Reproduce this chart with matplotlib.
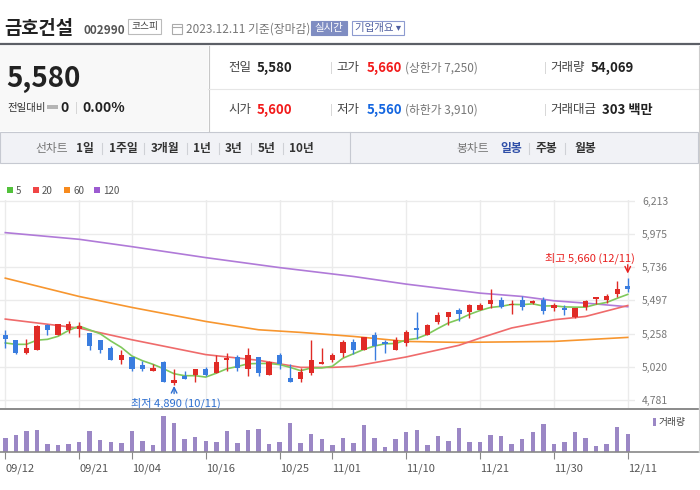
import matplotlib
matplotlib.use("Agg")
import matplotlib.pyplot as plt
from matplotlib.patches import Rectangle
from matplotlib.lines import Line2D

plt.rcParams['font.family'] = ['Noto Sans CJK KR', 'DejaVu Sans']

W, H = 700, 490

# ---------------- data ----------------
dates = ['09/12', '09/13', '09/14', '09/15', '09/18', '09/19', '09/20', '09/21', '09/22', '09/25',
         '09/26', '09/27', '10/04', '10/05', '10/06', '10/10', '10/11', '10/12', '10/13', '10/16',
         '10/17', '10/18', '10/19', '10/20', '10/23', '10/24', '10/25', '10/26', '10/27', '10/30',
         '10/31', '11/01', '11/02', '11/03', '11/06', '11/07', '11/08', '11/09', '11/10', '11/13',
         '11/14', '11/15', '11/16', '11/17', '11/20', '11/21', '11/22', '11/23', '11/24', '11/27',
         '11/28', '11/29', '11/30', '12/01', '12/04', '12/05', '12/06', '12/07', '12/08', '12/11']
opens = [5250, 5210, 5120, 5140, 5320, 5250, 5280, 5290, 5260, 5210,
         5150, 5070, 5090, 5030, 4990, 5050, 4900, 4950, 4960, 5000,
         4970, 5070, 5090, 5000, 5090, 4960, 5100, 4940, 4930, 4970,
         5040, 5070, 5120, 5200, 5140, 5250, 5200, 5140, 5190, 5300,
         5250, 5340, 5380, 5430, 5410, 5430, 5470, 5500, 5460, 5500,
         5480, 5500, 5440, 5440, 5380, 5450, 5510, 5500, 5540, 5600]
highs = [5280, 5210, 5220, 5320, 5330, 5330, 5350, 5340, 5260, 5210,
         5170, 5140, 5090, 5060, 5040, 5060, 5000, 4990, 5000, 5020,
         5100, 5120, 5100, 5150, 5090, 5060, 5120, 5040, 5010, 5210,
         5150, 5120, 5210, 5220, 5230, 5270, 5210, 5230, 5280, 5410,
         5330, 5410, 5410, 5440, 5470, 5480, 5580, 5520, 5500, 5530,
         5500, 5520, 5480, 5460, 5440, 5500, 5520, 5540, 5640, 5660]
lows = [5150, 5110, 5110, 5140, 5250, 5250, 5260, 5230, 5140, 5120,
        5070, 5040, 4990, 4990, 4990, 4910, 4890, 4930, 4910, 4950,
        4970, 4990, 4990, 4950, 4950, 4960, 5000, 4910, 4910, 4960,
        5040, 5050, 5090, 5110, 5140, 5070, 5120, 5140, 5170, 5220,
        5250, 5330, 5320, 5350, 5370, 5430, 5440, 5440, 5400, 5430,
        5470, 5400, 5420, 5390, 5370, 5430, 5470, 5480, 5520, 5560]
closes = [5220, 5120, 5150, 5310, 5280, 5330, 5330, 5310, 5170, 5140,
          5070, 5100, 5000, 5000, 5010, 4910, 4920, 4930, 5000, 4960,
          5050, 5080, 5010, 5100, 4970, 5050, 5040, 4910, 4980, 5070,
          5050, 5100, 5200, 5140, 5230, 5170, 5180, 5210, 5270, 5280,
          5320, 5390, 5410, 5400, 5460, 5460, 5500, 5450, 5470, 5450,
          5490, 5420, 5460, 5430, 5440, 5490, 5520, 5530, 5580, 5580]
volumes = [42000, 51000, 63000, 66000, 24000, 21000, 24000, 30000, 63000, 36000,
           30000, 27000, 63000, 33000, 21000, 108000, 87000, 39000, 45000, 33000,
           30000, 63000, 27000, 66000, 69000, 24000, 30000, 87000, 27000, 54000,
           39000, 21000, 42000, 27000, 81000, 42000, 15000, 39000, 60000, 66000,
           21000, 48000, 33000, 72000, 30000, 30000, 51000, 48000, 24000, 39000,
           60000, 84000, 24000, 30000, 60000, 42000, 18000, 24000, 75000, 54069]

ma5 = [5190, 5180, 5180, 5210, 5216, 5238, 5280, 5312, 5284, 5256,
       5204, 5158, 5096, 5062, 5036, 5004, 4968, 4954, 4954, 4944,
       4972, 5004, 5020, 5040, 5042, 5042, 5034, 5014, 4990, 5010,
       5010, 5022, 5080, 5112, 5144, 5168, 5184, 5186, 5212, 5222,
       5252, 5294, 5334, 5360, 5396, 5424, 5446, 5454, 5468, 5466,
       5472, 5456, 5458, 5450, 5448, 5448, 5468, 5482, 5512, 5540]
ma20_idx = [0, 7, 12, 19, 24, 28, 31, 33, 38, 43, 45, 48, 52, 55, 59]
ma20 = [5362, 5297, 5213, 5106, 5065, 5014, 5014, 5021, 5089, 5173, 5225, 5298, 5357, 5381, 5460]
ma60_idx = [0, 7, 12, 19, 24, 28, 33, 38, 43, 52, 59]
ma60 = [5657, 5525, 5446, 5345, 5285, 5266, 5237, 5201, 5194, 5201, 5230]
ma120_idx = [0, 7, 12, 19, 26, 33, 38, 45, 49, 52, 55, 59]
ma120 = [5985, 5937, 5884, 5805, 5733, 5669, 5614, 5549, 5525, 5494, 5477, 5451]

price_ticks = [4781, 5020, 5258, 5497, 5736, 5975, 6213]
date_ticks = ['09/12', '09/21', '10/04', '10/16', '10/25', '11/01', '11/10', '11/21', '11/30', '12/11']

name = '금호건설'
code = '002990'
upper_limit = 7250
lower_limit = 3910
trade_value = 303

RED = '#e02b26'
BLUE = '#3a7ddf'

fig = plt.figure(figsize=(7, 4.9), dpi=100)


def fx(x):
    return x / W


def fy(y):
    return 1 - y / H


def txt(x, y, s, size=9, color='#333', weight='normal', ha='left'):
    fig.text(fx(x), fy(y), s, fontsize=size, color=color, fontweight=weight,
             ha=ha, va='center')


def box(x, y, w, h, **kw):
    fig.add_artist(Rectangle((fx(x), fy(y + h)), w / W, h / H,
                             transform=fig.transFigure, **kw))


def line(x1, y1, x2, y2, **kw):
    fig.add_artist(Line2D([fx(x1), fx(x2)], [fy(y1), fy(y2)],
                          transform=fig.transFigure, **kw))


# ---------------- header ----------------
txt(4, 29, name, size=13.5, color='#222', weight='bold')
txt(83, 31, code, size=8.5, color='#555', weight='bold')
box(128, 19, 33, 15, facecolor='white', edgecolor='#bbbbbb', lw=0.8)
txt(144.5, 26.5, '코스피', size=7, color='#444', ha='center')
box(172, 24, 10, 10, facecolor='none', edgecolor='#aaaaaa', lw=0.8)
line(172, 27, 182, 27, color='#aaaaaa', lw=0.8)
txt(186, 29, '2023.12.11 기준(장마감)', size=8.5, color='#777')
box(311, 21, 36, 14, facecolor='#7f8dc2', edgecolor='#7f8dc2', lw=0.8)
txt(329, 28, '실시간', size=7.5, color='white', ha='center')
box(352, 21, 52, 14, facecolor='white', edgecolor='#8d9bd0', lw=0.8)
txt(378, 28, '기업개요 ▾', size=7.5, color='#4f5fa0', ha='center')
line(0, 44.5, 700, 44.5, color='#5c5f66', lw=1.6)

# quote panel
box(0, 46, 208, 85, facecolor='#f8f8f8', edgecolor='none')
line(208.5, 46, 208.5, 131, color='#c8c8c8', lw=0.8)
line(208, 89, 698, 89, color='#e6e6e6', lw=0.8)
line(698.5, 46, 698.5, 452, color='#cccccc', lw=0.8)

last = closes[-1]
prev = closes[-2]
chg = last - prev
txt(6, 79, f'{last:,}', size=20, color='#222', weight='bold')
txt(7, 108, '전일대비', size=7.5, color='#333')
box(47, 105.5, 11, 3.5, facecolor='#b5b5b5', edgecolor='none')
txt(60, 108, f'{chg}', size=10, color='#222', weight='bold')
txt(75, 108, '|', size=8, color='#cccccc')
txt(82, 108, f'{chg / prev * 100:.2f}%', size=10, color='#222', weight='bold')

row1, row2 = 68, 110
txt(228, row1, '전일', size=9, color='#444')
txt(257, row1, f'{prev:,}', size=9.5, color='#222', weight='bold')
txt(330, row1, '|', size=8, color='#cccccc')
txt(336, row1, '고가', size=9, color='#444')
txt(367, row1, f'{highs[-1]:,}', size=9.5, color='#f21b1b', weight='bold')
txt(405, row1, f'(상한가 {upper_limit:,})', size=8.5, color='#777')
txt(544, row1, '|', size=8, color='#cccccc')
txt(550, row1, '거래량', size=9, color='#444')
txt(591, row1, f'{volumes[-1]:,}', size=9.5, color='#222', weight='bold')

txt(228, row2, '시가', size=9, color='#444')
txt(257, row2, f'{opens[-1]:,}', size=9.5, color='#f21b1b', weight='bold')
txt(330, row2, '|', size=8, color='#cccccc')
txt(336, row2, '저가', size=9, color='#444')
txt(367, row2, f'{lows[-1]:,}', size=9.5, color='#1466e0', weight='bold')
txt(405, row2, f'(하한가 {lower_limit:,})', size=8.5, color='#777')
txt(544, row2, '|', size=8, color='#cccccc')
txt(550, row2, '거래대금', size=9, color='#444')
txt(602, row2, f'{trade_value} 백만', size=9.5, color='#222', weight='bold')

# menu bar
box(0, 132, 698, 31, facecolor='#f1f2f6', edgecolor='#c6c9d1', lw=0.8)
line(350, 132, 350, 163, color='#c6c9d1', lw=0.8)
txt(35, 148, '선차트', size=8.5, color='#777')
for x, s in [(76, '1일'), (109, '1주일'), (151, '3개월'), (193, '1년'),
             (225, '3년'), (258, '5년'), (289, '10년')]:
    txt(x, 148, s, size=8.5, color='#333', weight='bold')
for x in [102, 144, 187, 219, 251, 283, 529, 565]:
    line(x, 143, x, 154, color='#cfd1d6', lw=0.8)
txt(456, 148, '봉차트', size=8.5, color='#777')
txt(500, 148, '일봉', size=8.5, color='#2f4fa8', weight='bold')
txt(536, 148, '주봉', size=8.5, color='#333', weight='bold')
txt(574, 148, '월봉', size=8.5, color='#333', weight='bold')

# MA legend
for x, c, s in [(7, '#52c13b', '5'), (33, '#f04545', '20'),
                (64, '#f78a1d', '60'), (94, '#9c5bd1', '120')]:
    box(x, 187.5, 6, 6, facecolor=c, edgecolor='none')
    txt(x + 9, 190.5, s, size=7, color='#555')

# ---------------- price chart ----------------
px_per_day = 10.55
x0 = -5.3 / px_per_day
x1 = (635 - 5.3) / px_per_day
top_px, bot_px = 200, 408
per_px = (6213 - 4781) / 198.7
ylim_top = 6213 + (201 - top_px) * per_px
ylim_bot = 6213 - (bot_px - 201) * per_px

ax = fig.add_axes([0, fy(bot_px), 635 / W, (bot_px - top_px) / H])
ax.set_xlim(x0, x1)
ax.set_ylim(ylim_bot, ylim_top)

tick_idx = [dates.index(d) for d in date_ticks]
ax.set_xticks(tick_idx)
ax.set_yticks(price_ticks)
ax.set_yticklabels([f'{v:,}' for v in price_ticks])
ax.yaxis.tick_right()
ax.tick_params(axis='y', length=0, pad=5, labelsize=7.5, labelcolor='#777')
ax.tick_params(axis='x', length=0, labelbottom=False)
ax.grid(color='#ebebeb', lw=1)
ax.set_axisbelow(True)
for s in ax.spines.values():
    s.set_visible(False)

ax.plot(ma120_idx, ma120, color='#b07ad8', lw=1.2, zorder=2)
ax.plot(ma60_idx, ma60, color='#f7962f', lw=1.2, zorder=2)
ax.plot(ma20_idx, ma20, color='#ef6b6b', lw=1.2, zorder=2)
ax.plot(range(len(ma5)), ma5, color='#80c95b', lw=1.2, zorder=2)

for i in range(len(dates)):
    o, h, l, c = opens[i], highs[i], lows[i], closes[i]
    col = RED if c >= o else BLUE
    ax.vlines(i, l, h, color=col, lw=1.0, zorder=3)
    ax.bar(i, max(abs(c - o), 8), bottom=min(o, c), width=0.5, color=col,
           lw=0, zorder=3)

hi_i = highs.index(max(highs))
lo_i = lows.index(min(lows))
ax.annotate('', xy=(hi_i, highs[hi_i]), xytext=(0, 13), textcoords='offset pixels',
            xycoords='data',
            arrowprops=dict(arrowstyle='->', color='#e8201f', lw=1,
                            shrinkA=0, shrinkB=3))
ax.annotate(f'최고 {highs[hi_i]:,} ({dates[hi_i]})', xy=(hi_i, highs[hi_i]),
            xytext=(7, 19.5), textcoords='offset pixels', ha='right', va='center',
            fontsize=8, color='#e8201f')
ax.annotate('', xy=(lo_i, lows[lo_i]), xytext=(0, -9), textcoords='offset pixels',
            arrowprops=dict(arrowstyle='->', color='#2d6fd0', lw=1,
                            shrinkA=0, shrinkB=1))
ax.annotate(f'최저 {lows[lo_i]:,} ({dates[lo_i]})', xy=(lo_i, lows[lo_i]),
            xytext=(2, -18.5), textcoords='offset pixels', ha='center', va='center',
            fontsize=8, color='#2d6fd0', annotation_clip=False)

line(0, 408.5, 698, 408.5, color='#777777', lw=1.2)

# ---------------- volume ----------------
vol_top, vol_bot = 409, 452
vax = fig.add_axes([0, fy(vol_bot), 635 / W, (vol_bot - vol_top) / H])
vax.set_xlim(x0, x1)
vax.set_ylim(0, (vol_bot - vol_top) * volumes[-1] / 18)
vax.bar(range(len(volumes)), volumes, width=0.42, color='#9b87c5', lw=0)
vax.set_yticks([])
vax.set_xticks(tick_idx)
vax.set_xticklabels(date_ticks)
for lab in vax.get_xticklabels():
    lab.set_ha('left')
vax.tick_params(axis='x', length=5, color='#888888', labelsize=8,
                labelcolor='#555', pad=3)
for s in vax.spines.values():
    s.set_visible(False)
line(0, 452, 698, 452, color='#888888', lw=1.2)
box(653, 418, 3, 8, facecolor='#9b87c5', edgecolor='none')
txt(659, 422, '거래량', size=7, color='#444')

fig.savefig('out.png', dpi=100)
